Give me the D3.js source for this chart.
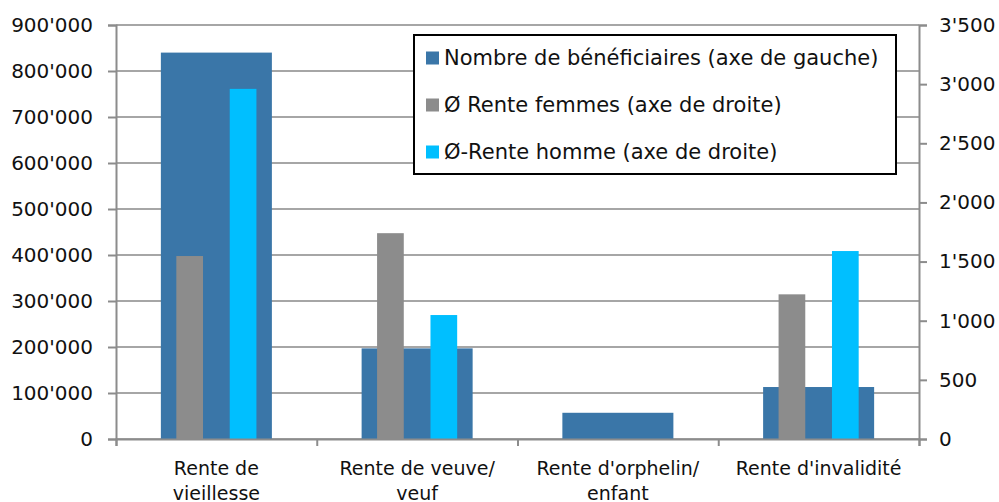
<!DOCTYPE html>
<html>
<head>
<meta charset="utf-8">
<script src="https://cdn.jsdelivr.net/npm/d3@7"></script>
<style>
  body { margin: 0; background: #fff; }
  text { font-family: "DejaVu Sans", sans-serif; fill: #111; }
</style>
</head>
<body>
<svg id="vis"></svg>
<script>
// Données
const categories = [
    ["Rente de", "vieillesse"],
    ["Rente de veuve/", "veuf"],
    ["Rente d'orphelin/", "enfant"],
    ["Rente d'invalidité"]
];
const beneficiaires = [840000, 197000, 57000, 113000];
const renteFemmes = [1547, 1740, 0, 1223];
const renteHommes = [2960, 1048, 0, 1589];
const ticksGauche = [0, 100000, 200000, 300000, 400000, 500000, 600000, 700000, 800000, 900000];
const ticksDroite = [0, 500, 1000, 1500, 2000, 2500, 3000, 3500];
const series = ["Nombre de bénéficiaires (axe de gauche)", "Ø Rente femmes (axe de droite)", "Ø-Rente homme (axe de droite)"];
const couleurs = ["#3A76A8", "#8C8C8C", "#00BFFF"];

const WIDTH = 999;
const HEIGHT = 502;
const MARGIN = { top: 25, bottom: 63, left: 116, right: 80 };
const WIDTHVIS = WIDTH - MARGIN.left - MARGIN.right;
const HEIGHTVIS = HEIGHT - MARGIN.top - MARGIN.bottom;
const FONT = "'DejaVu Sans', sans-serif";

const svg = d3.select("#vis").attr("width", WIDTH).attr("height", HEIGHT);
const g = svg.append("g").attr("transform", `translate(${MARGIN.left}, ${MARGIN.top})`);

const fmt = v => d3.format(",")(v).replace(/,/g, "'");

const escalaX = d3.scaleBand().domain(d3.range(categories.length)).range([0, WIDTHVIS]);
const escalaY = d3.scaleLinear().domain([0, 900000]).range([HEIGHTVIS, 0]);
const escalaY2 = d3.scaleLinear().domain([0, 3500]).range([HEIGHTVIS, 0]);

// Quadrillage
g.append("g")
    .selectAll("line")
    .data(ticksGauche)
    .join("line")
    .attr("x1", 0)
    .attr("x2", WIDTHVIS)
    .attr("y1", d => escalaY(d))
    .attr("y2", d => escalaY(d))
    .attr("stroke", "#A6A6A6")
    .attr("stroke-width", 2);

// Barres bénéficiaires
const bw = escalaX.bandwidth() * 0.553;
g.append("g")
    .selectAll("rect")
    .data(beneficiaires)
    .join("rect")
    .attr("x", (d, i) => escalaX(i) + escalaX.bandwidth() / 2 - bw / 2)
    .attr("y", d => escalaY(d))
    .attr("width", bw)
    .attr("height", d => HEIGHTVIS - escalaY(d))
    .attr("fill", couleurs[0]);

// Barres rentes (axe de droite)
const sw = escalaX.bandwidth() * 0.133;
[renteFemmes, renteHommes].forEach((serie, k) => {
    const off = k === 0 ? -1.5 * sw : 0.5 * sw;
    g.append("g")
        .selectAll("rect")
        .data(serie)
        .join("rect")
        .attr("x", (d, i) => escalaX(i) + escalaX.bandwidth() / 2 + off)
        .attr("y", d => escalaY2(d))
        .attr("width", sw)
        .attr("height", d => HEIGHTVIS - escalaY2(d))
        .attr("fill", couleurs[k + 1]);
});

// Axes
const ejeY = g.append("g")
    .call(d3.axisLeft(escalaY).tickValues(ticksGauche).tickFormat(fmt).tickSize(8).tickPadding(15));
const ejeY2 = g.append("g")
    .attr("transform", `translate(${WIDTHVIS}, 0)`)
    .call(d3.axisRight(escalaY2).tickValues(ticksDroite).tickFormat(fmt).tickSize(8).tickPadding(12));
const ejeX = g.append("g")
    .attr("transform", `translate(0, ${HEIGHTVIS})`)
    .call(d3.axisBottom(d3.scaleLinear().domain([0, 4]).range([0, WIDTHVIS])).ticks(4).tickFormat("").tickSize(7));

[ejeY, ejeY2, ejeX].forEach(a => {
    a.select(".domain").attr("stroke", "#8C8C8C").attr("stroke-width", 2);
    a.selectAll(".tick line").attr("stroke", "#8C8C8C").attr("stroke-width", 2);
    a.selectAll("text").attr("font-size", 20).attr("fill", "#111").attr("font-family", FONT);
});

// Étiquettes des catégories
g.append("g")
    .selectAll("text")
    .data(categories)
    .join("text")
    .attr("x", (d, i) => escalaX(i) + escalaX.bandwidth() / 2)
    .attr("y", HEIGHTVIS + 36)
    .attr("text-anchor", "middle")
    .attr("font-size", 19)
    .selectAll("tspan")
    .data(d => d)
    .join("tspan")
    .attr("x", function () { return d3.select(this.parentNode).attr("x"); })
    .attr("dy", (d, i) => i === 0 ? 0 : 25)
    .text(d => d);

// Légende
const leg = svg.append("g").attr("transform", "translate(414, 35)");
leg.append("rect")
    .attr("width", 482)
    .attr("height", 139)
    .attr("fill", "#fff")
    .attr("stroke", "#000")
    .attr("stroke-width", 2);
series.forEach((s, i) => {
    const y = 23 + i * 47;
    leg.append("rect")
        .attr("x", 12)
        .attr("y", y - 6.5)
        .attr("width", 13)
        .attr("height", 13)
        .attr("fill", couleurs[i]);
    leg.append("text")
        .attr("x", 30)
        .attr("y", y)
        .attr("dy", "0.35em")
        .attr("font-size", 21)
        .text(s);
});
</script>
</body>
</html>
